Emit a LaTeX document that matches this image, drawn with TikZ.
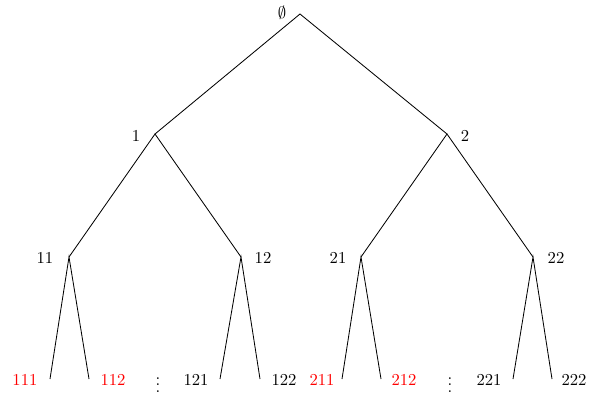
\documentclass[tikz,border=0pt]{standalone}
\begin{document}
\begin{tikzpicture}[x=0.6pt,y=-0.6pt,
  lbl/.style={inner sep=0pt, anchor=center},
  red lbl/.style={lbl, text=red},
  edge/.style={line width=0.5pt}]
\useasboundingbox (0,0) rectangle (590,394);
% tree vertices
\coordinate (r) at (300,14);
\coordinate (n1) at (155,134);
\coordinate (n2) at (447,134);
\coordinate (n11) at (69,257);
\coordinate (n12) at (241,257);
\coordinate (n21) at (361,257);
\coordinate (n22) at (533,257);
\coordinate (e111) at (50,379);
\coordinate (e112) at (89,379);
\coordinate (e121) at (220,379);
\coordinate (e122) at (260,379);
\coordinate (e211) at (342,379);
\coordinate (e212) at (381,379);
\coordinate (e221) at (513,379);
\coordinate (e222) at (552,379);
% edges
\draw[edge] (n1) -- (r) -- (n2);
\draw[edge] (n11) -- (n1) -- (n12);
\draw[edge] (n21) -- (n2) -- (n22);
\draw[edge] (e111) -- (n11) -- (e112);
\draw[edge] (e121) -- (n12) -- (e122);
\draw[edge] (e211) -- (n21) -- (e212);
\draw[edge] (e221) -- (n22) -- (e222);
% labels
\node[lbl] (tr) at (282,13) {$\emptyset$};
\node[lbl] (t1) at (136,136) {1};
\node[lbl] (t2) at (465,136) {2};
\node[lbl] (t11) at (45,258) {11};
\node[lbl] (t12) at (263,258) {12};
\node[lbl] (t21) at (338,258) {21};
\node[lbl] (t22) at (556,258) {22};
\node[red lbl] (t111) at (25,380) {111};
\node[red lbl] (t112) at (113,380) {112};
\node[lbl] (t121) at (196,380) {121};
\node[lbl] (t122) at (284,380) {122};
\node[red lbl] (t211) at (322,380) {211};
\node[red lbl] (t212) at (404,380) {212};
\node[lbl] (t221) at (489,380) {221};
\node[lbl] (t222) at (574,380) {222};
\node[lbl] (d1) at (158,380) {$\vdots$};
\node[lbl] (d2) at (450,380) {$\vdots$};
\end{tikzpicture}
\end{document}
